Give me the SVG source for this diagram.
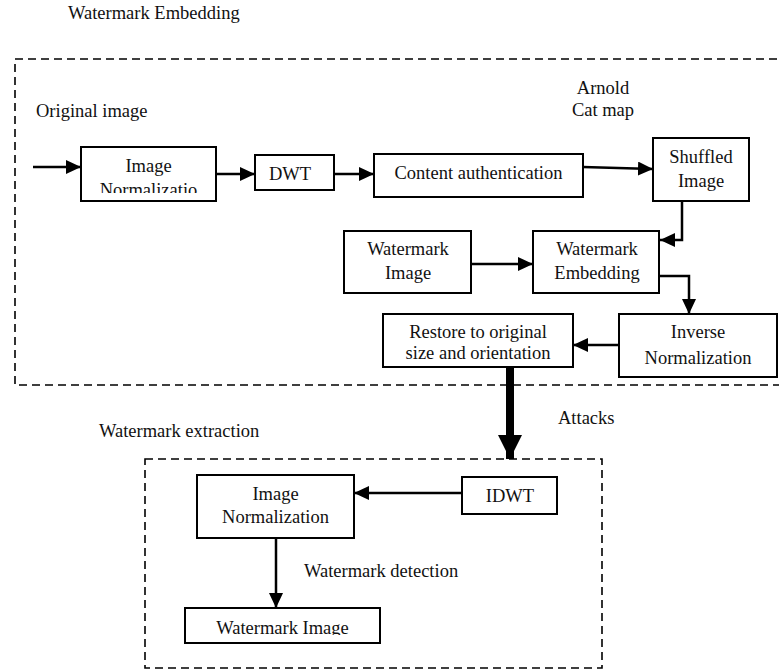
<svg xmlns="http://www.w3.org/2000/svg" width="779" height="671" viewBox="0 0 779 671" font-family="'Liberation Serif', 'Times New Roman', 'DejaVu Serif', serif">
<style>
text{font-family:"Liberation Serif","Times New Roman","DejaVu Serif",serif;font-size:18.5px;fill:#111}
.c{text-anchor:middle}
.box{fill:#fff;stroke:#000;stroke-width:2}
.dash{fill:none;stroke:#000;stroke-width:1.6;stroke-dasharray:8,5}
.con{fill:none;stroke:#000;stroke-width:2.5}
</style>
<defs>
<marker id="ah" markerUnits="userSpaceOnUse" markerWidth="15" markerHeight="14" refX="15" refY="7" orient="auto"><path d="M0,0 L15,7 L0,14 z" fill="#000"/></marker>
<marker id="big" markerUnits="userSpaceOnUse" markerWidth="24" markerHeight="24" refX="24" refY="12" orient="auto"><path d="M0,0 L24,12 L0,24 z" fill="#000"/></marker>
<clipPath id="clipIN"><rect x="81" y="147" width="135" height="46"/></clipPath>
<clipPath id="clipWI"><rect x="185" y="608" width="195" height="27"/></clipPath>
</defs>
<rect width="779" height="671" fill="#fff"/>
<g id="labels">
<text x="68" y="19">Watermark Embedding</text>
<text x="36" y="117">Original image</text>
<text class="c" x="603" y="94">Arnold</text>
<text class="c" x="603" y="116">Cat map</text>
<text x="558" y="424">Attacks</text>
<text x="99" y="437">Watermark extraction</text>
<text x="304" y="577">Watermark detection</text>
</g>
<g id="groups">
<path class="dash" d="M790,59 H15 V385 H790"/>
<rect class="dash" x="145" y="459" width="457" height="209"/>
</g>
<g id="connectors">
<path class="con" d="M33,167 H81" marker-end="url(#ah)"/>
<path class="con" d="M216,174 H255" marker-end="url(#ah)"/>
<path class="con" d="M334,174 H374" marker-end="url(#ah)"/>
<path class="con" d="M583,167 L653,169" marker-end="url(#ah)"/>
<path class="con" d="M682,201 V240 H660" marker-end="url(#ah)"/>
<path class="con" d="M471,264 H533" marker-end="url(#ah)"/>
<path class="con" d="M659,276 H689 V314" marker-end="url(#ah)"/>
<path class="con" d="M619,345 H573" marker-end="url(#ah)"/>
<path fill="none" stroke="#000" stroke-width="8" d="M510,367 V459" marker-end="url(#big)"/>
<path class="con" d="M462,493 H354" marker-end="url(#ah)"/>
<path class="con" d="M276,538 V608" marker-end="url(#ah)"/>
</g>
<g id="image-normalization">
<rect class="box" x="81" y="147" width="135" height="54"/>
<text class="c" x="148.5" y="172">Image</text>
<text class="c" x="148.5" y="196" clip-path="url(#clipIN)">Normalizatio</text>
</g>
<g id="dwt">
<rect class="box" x="255" y="155" width="79" height="35"/>
<text class="c" x="290" y="180">DWT</text>
</g>
<g id="content-authentication">
<rect class="box" x="374" y="154" width="209" height="43"/>
<text class="c" x="478.5" y="179">Content authentication</text>
</g>
<g id="shuffled-image">
<rect class="box" x="653" y="138" width="96" height="63"/>
<text class="c" x="701" y="163">Shuffled</text>
<text class="c" x="701" y="187">Image</text>
</g>
<g id="watermark-image">
<rect class="box" x="344" y="231" width="127" height="62"/>
<text class="c" x="408" y="255">Watermark</text>
<text class="c" x="408" y="279">Image</text>
</g>
<g id="watermark-embedding">
<rect class="box" x="533" y="231" width="126" height="62"/>
<text class="c" x="597" y="255">Watermark</text>
<text class="c" x="597" y="279">Embedding</text>
</g>
<g id="restore">
<rect class="box" x="383" y="314" width="190" height="53"/>
<text class="c" x="478" y="338">Restore to original</text>
<text class="c" x="478" y="359">size and orientation</text>
</g>
<g id="inverse-normalization">
<rect class="box" x="619" y="314" width="158" height="63"/>
<text class="c" x="698" y="338">Inverse</text>
<text class="c" x="698" y="364">Normalization</text>
</g>
<g id="image-normalization-2">
<rect class="box" x="197" y="475" width="157" height="63"/>
<text class="c" x="275.5" y="500">Image</text>
<text class="c" x="275.5" y="523">Normalization</text>
</g>
<g id="idwt">
<rect class="box" x="462" y="477" width="95" height="37"/>
<text class="c" x="510" y="502">IDWT</text>
</g>
<g id="watermark-image-2">
<rect class="box" x="185" y="608" width="195" height="35"/>
<text class="c" x="282.5" y="634" clip-path="url(#clipWI)">Watermark Image</text>
</g>
</svg>
